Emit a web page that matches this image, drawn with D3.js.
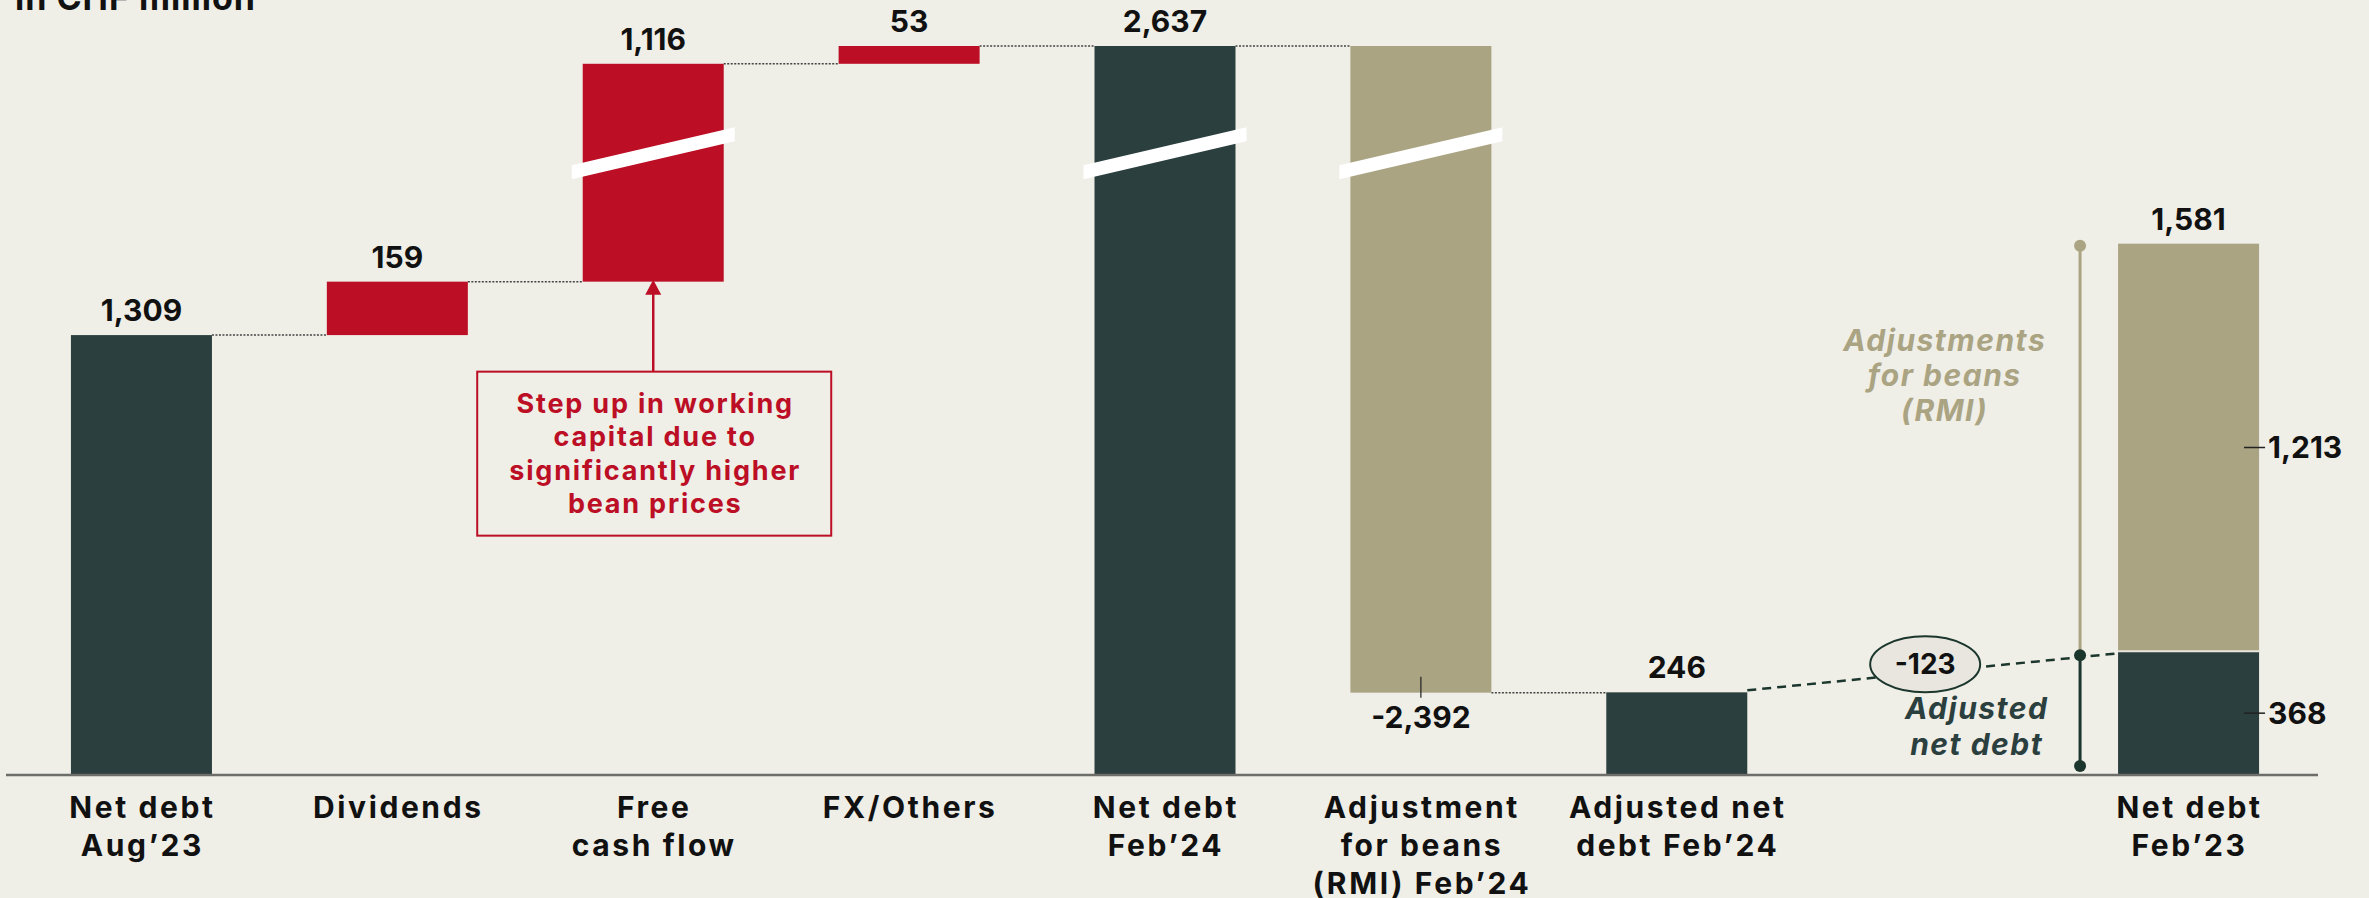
<!DOCTYPE html>
<html>
<head>
<meta charset="utf-8">
<script src="https://cdn.jsdelivr.net/npm/d3@7/dist/d3.min.js"></script>
<style>
    html, body { margin: 0; padding: 0; background: #efeee7; }
    svg { display: block; font-family: Inter, "Noto Sans", sans-serif; }
</style>
</head>
<body>
<div class="chart"></div>
<script>
// Données du graphe
const categories = ['netAug23', 'dividends', 'fcf', 'fx', 'netFeb24', 'adjRmi', 'adjNet', 'gap', 'netFeb23']
const categoryLabels = [
    ['Net debt', 'Aug’23'],
    ['Dividends'],
    ['Free', 'cash flow'],
    ['FX/Others'],
    ['Net debt', 'Feb’24'],
    ['Adjustment', 'for beans', '(RMI) Feb’24'],
    ['Adjusted net', 'debt Feb’24'],
    [],
    ['Net debt', 'Feb’23']
]
const stepValues = [1309, 159, 1116, 53, 2637, -2392, 246]
const stepKinds = ['total', 'up', 'up', 'up', 'total', 'rmi', 'total']
const stepLabels = ['1,309', '159', '1,116', '53', '2,637', '-2,392', '246']
const feb23Values = [368, 1213]
const feb23Labels = ['368', '1,213', '1,581']
const adjustedDiffLabel = '-123'
const noteLines = ['Step up in working', 'capital due to', 'significantly higher', 'bean prices']
const rmiNoteLines = ['Adjustments', 'for beans', '(RMI)']
const adjNoteLines = ['Adjusted', 'net debt']

// Couleurs
const colors = {
    bg: '#efeee7',
    dark: '#2b3f3e',
    red: '#bc0e25',
    tan: '#aaa483',
    bracket: '#1b362d',
    text: '#111'
}

const width = 2369,
    height = 898

const svg = d3.select('.chart')
    .append('svg')
    .attr('width', width)
    .attr('height', height)
    .style('background', colors.bg)

// Échelles (axe y coupé entre ~1'830 et ~2'360)
const x = d3.scaleBand()
    .domain(categories)
    .range([13.5, 2316.5])
    .paddingInner(0.449)
    .paddingOuter(0.2245)
const bw = x.bandwidth()

const breakLow = 1830,
    breakHigh = 2360
const y = d3.scaleLinear()
    .domain([0, breakLow, breakHigh, 2637])
    .range([775, 160, 139, 46])

// Calcule le début / la fin de chaque barre de la cascade
let running = 0
const steps = stepValues.map((v, i) => {
    const kind = stepKinds[i]
    let start, end
    if (kind === 'total') {
        start = 0
        end = v
        running = v
    } else {
        start = running
        end = running + v
        running = end
    }
    return { cat: categories[i], kind, value: v, start, end, level: running, label: stepLabels[i] }
})

const fillFor = d => d.kind === 'total' ? colors.dark : d.kind === 'rmi' ? colors.tan : colors.red

// Lignes pointillées entre les barres
svg.append('g')
    .selectAll('line')
    .data(steps.slice(0, -1))
    .join('line')
    .attr('x1', d => x(d.cat) + bw)
    .attr('x2', (d, i) => x(steps[i + 1].cat))
    .attr('y1', d => y(d.level))
    .attr('y2', d => y(d.level))
    .attr('stroke', '#444')
    .attr('stroke-width', 1.5)
    .attr('stroke-dasharray', '2,1.5')

// Barres de la cascade
svg.append('g')
    .selectAll('rect')
    .data(steps)
    .join('rect')
    .attr('x', d => x(d.cat))
    .attr('y', d => y(Math.max(d.start, d.end)))
    .attr('width', bw)
    .attr('height', d => Math.abs(y(d.start) - y(d.end)))
    .attr('fill', fillFor)

// Marques de coupure (seulement les barres qui traversent la coupure)
const breakY = y(2000)
svg.append('g')
    .selectAll('polygon')
    .data(steps.filter(d => Math.min(d.start, d.end) < breakLow && Math.max(d.start, d.end) > breakHigh))
    .join('polygon')
    .attr('points', d => {
        const xl = x(d.cat) - 11,
            xr = x(d.cat) + bw + 11
        return [[xl, breakY + 26], [xl, breakY + 12], [xr, breakY - 26], [xr, breakY - 12]].join(' ')
    })
    .attr('fill', '#fff')

// Valeurs au-dessus des barres
svg.append('g')
    .selectAll('text')
    .data(steps)
    .join('text')
    .attr('x', d => x(d.cat) + bw / 2)
    .attr('y', d => d.kind === 'rmi' ? y(d.end) + 35 : y(Math.max(d.start, d.end)) - 14)
    .attr('text-anchor', 'middle')
    .attr('font-size', 30)
    .attr('font-weight', 700)
    .attr('fill', colors.text)
    .text(d => d.label)

// Petit trait pour la valeur -2,392
const rmi = steps.find(d => d.kind === 'rmi')
svg.append('line')
    .attr('x1', x(rmi.cat) + bw / 2)
    .attr('x2', x(rmi.cat) + bw / 2)
    .attr('y1', y(rmi.end) - 16)
    .attr('y2', y(rmi.end) + 5)
    .attr('stroke', '#222')
    .attr('stroke-width', 1.2)

// Barre empilée Feb'23
let acc = 0
const feb23 = feb23Values.map((v, i) => {
    const d = { start: acc, end: acc + v, label: feb23Labels[i], fill: i === 0 ? colors.dark : colors.tan }
    acc += v
    return d
})
const x23 = x('netFeb23')

svg.append('g')
    .selectAll('rect')
    .data(feb23)
    .join('rect')
    .attr('x', x23)
    .attr('y', d => y(d.end))
    .attr('width', bw)
    .attr('height', d => y(d.start) - y(d.end))
    .attr('fill', d => d.fill)

// Séparation claire entre les deux segments
svg.append('line')
    .attr('x1', x23)
    .attr('x2', x23 + bw)
    .attr('y1', y(feb23Values[0]))
    .attr('y2', y(feb23Values[0]))
    .attr('stroke', '#e8e6dc')
    .attr('stroke-width', 2)

// Étiquettes à droite des segments
const segLabels = svg.append('g')
feb23.forEach(d => {
    const my = (y(d.start) + y(d.end)) / 2
    segLabels.append('line')
        .attr('x1', x23 + bw - 15)
        .attr('x2', x23 + bw + 6)
        .attr('y1', my)
        .attr('y2', my)
        .attr('stroke', '#222')
        .attr('stroke-width', 1.5)
    segLabels.append('text')
        .attr('x', x23 + bw + 9)
        .attr('y', my)
        .attr('dy', '0.36em')
        .attr('font-size', 30)
        .attr('font-weight', 700)
        .attr('fill', colors.text)
        .text(d.label)
})

svg.append('text')
    .attr('x', x23 + bw / 2)
    .attr('y', y(acc) - 14)
    .attr('text-anchor', 'middle')
    .attr('font-size', 30)
    .attr('font-weight', 700)
    .attr('fill', colors.text)
    .text(feb23Labels[2])

// Crochet vertical (ajustements / dette nette ajustée)
const bx = x23 - 38
svg.append('line')
    .attr('x1', bx).attr('x2', bx)
    .attr('y1', y(acc) + 2).attr('y2', y(feb23Values[0]) + 4)
    .attr('stroke', colors.tan)
    .attr('stroke-width', 3)
svg.append('line')
    .attr('x1', bx).attr('x2', bx)
    .attr('y1', y(feb23Values[0]) + 4).attr('y2', y(0) - 9)
    .attr('stroke', colors.bracket)
    .attr('stroke-width', 3)
svg.append('circle').attr('cx', bx).attr('cy', y(acc) + 2).attr('r', 6).attr('fill', colors.tan)
svg.append('circle').attr('cx', bx).attr('cy', y(feb23Values[0]) + 4).attr('r', 6).attr('fill', colors.bracket)
svg.append('circle').attr('cx', bx).attr('cy', y(0) - 9).attr('r', 6).attr('fill', colors.bracket)

// Ligne tiretée entre 246 et 368
const adjNet = steps.find(d => d.cat === 'adjNet')
svg.append('line')
    .attr('x1', x(adjNet.cat) + bw)
    .attr('y1', y(adjNet.end) - 2)
    .attr('x2', x23)
    .attr('y2', y(feb23Values[0]) + 2)
    .attr('stroke', colors.bracket)
    .attr('stroke-width', 2.5)
    .attr('stroke-dasharray', '9,6')

// Bulle -123
const ex = x('gap') + 63,
    ey = y(adjNet.end) - 28
svg.append('ellipse')
    .attr('cx', ex)
    .attr('cy', ey)
    .attr('rx', 55)
    .attr('ry', 28)
    .attr('fill', '#e8e6de')
    .attr('stroke', colors.bracket)
    .attr('stroke-width', 2)
svg.append('text')
    .attr('x', ex)
    .attr('y', ey)
    .attr('dy', '0.36em')
    .attr('text-anchor', 'middle')
    .attr('font-size', 28)
    .attr('font-weight', 700)
    .attr('fill', colors.text)
    .text(adjustedDiffLabel)

// Textes en italique
svg.append('g')
    .selectAll('text')
    .data(rmiNoteLines)
    .join('text')
    .attr('x', x('gap') + bw / 2 + 12)
    .attr('y', (d, i) => 351 + i * 35)
    .attr('text-anchor', 'middle')
    .attr('font-size', 30)
    .attr('font-weight', 700)
    .attr('font-style', 'italic')
    .attr('letter-spacing', 1.5)
    .attr('fill', colors.tan)
    .text(d => d)

svg.append('g')
    .selectAll('text')
    .data(adjNoteLines)
    .join('text')
    .attr('x', x('gap') + bw / 2 + 44)
    .attr('y', (d, i) => 719 + i * 36)
    .attr('text-anchor', 'middle')
    .attr('font-size', 30)
    .attr('font-weight', 700)
    .attr('font-style', 'italic')
    .attr('letter-spacing', 1.5)
    .attr('fill', '#2b3f3e')
    .text(d => d)

// Encadré d'annotation (Free cash flow)
const fcf = steps.find(d => d.cat === 'fcf')
const cx = x(fcf.cat) + bw / 2,
    boxTop = y(fcf.start) + 90
svg.append('rect')
    .attr('x', cx - 176)
    .attr('y', boxTop)
    .attr('width', 354)
    .attr('height', 164)
    .attr('fill', 'none')
    .attr('stroke', colors.red)
    .attr('stroke-width', 2)
svg.append('line')
    .attr('x1', cx).attr('x2', cx)
    .attr('y1', boxTop).attr('y2', y(fcf.start) + 10)
    .attr('stroke', colors.red)
    .attr('stroke-width', 2.5)
svg.append('path')
    .attr('d', `M ${cx} ${y(fcf.start) - 2} L ${cx - 8} ${y(fcf.start) + 13} L ${cx + 8} ${y(fcf.start) + 13} Z`)
    .attr('fill', colors.red)
svg.append('g')
    .selectAll('text')
    .data(noteLines)
    .join('text')
    .attr('x', cx + 2)
    .attr('y', (d, i) => boxTop + 41 + i * 33.5)
    .attr('text-anchor', 'middle')
    .attr('font-size', 27)
    .attr('font-weight', 700)
    .attr('letter-spacing', 1.8)
    .attr('fill', colors.red)
    .text(d => d)

// Axe X (ligne de base + libellés)
svg.append('line')
    .attr('x1', 6)
    .attr('x2', 2318)
    .attr('y1', y(0))
    .attr('y2', y(0))
    .attr('stroke', '#6d6d6a')
    .attr('stroke-width', 2.5)

const axisLabels = svg.append('g')
categories.forEach((c, i) => {
    axisLabels.append('text')
        .attr('x', x(c) + bw / 2)
        .attr('text-anchor', 'middle')
        .attr('font-size', 30)
        .attr('font-weight', 700)
        .attr('letter-spacing', 2.6)
        .attr('fill', colors.text)
        .selectAll('tspan')
        .data(categoryLabels[i])
        .join('tspan')
        .attr('x', x(c) + bw / 2 + 1)
        .attr('y', (d, j) => 818 + j * 38)
        .text(d => d)
})

// Titre (coupé en haut, comme l'original)
svg.append('text')
    .attr('x', 15)
    .attr('y', 10)
    .attr('font-size', 34)
    .attr('font-weight', 700)
    .attr('letter-spacing', 1)
    .attr('fill', colors.text)
    .text('in CHF million')
</script>
</body>
</html>
